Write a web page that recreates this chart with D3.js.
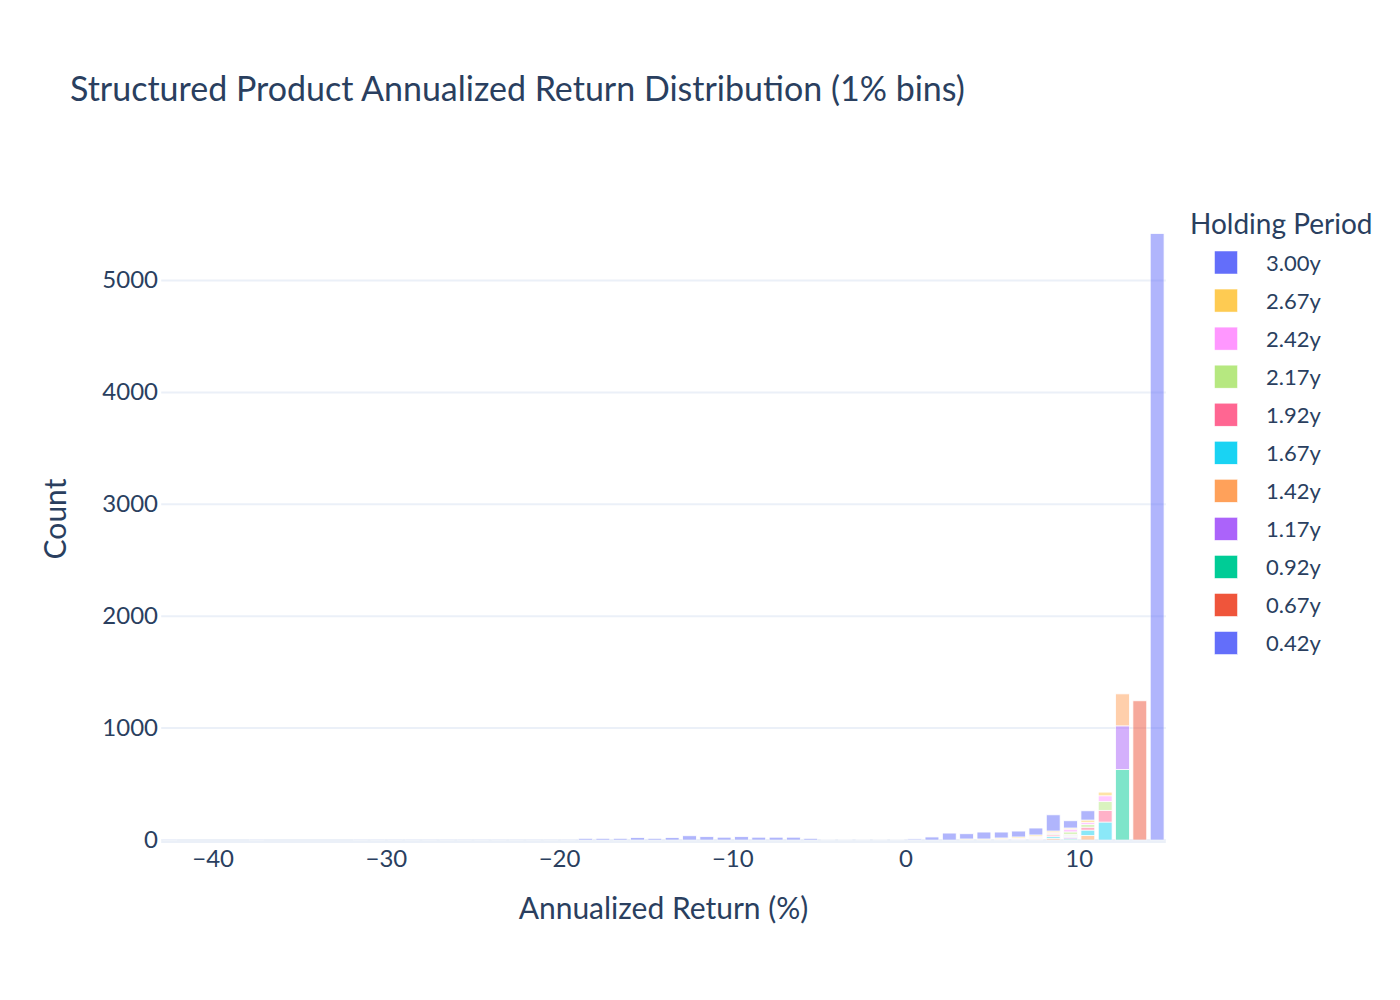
<!DOCTYPE html>
<html>
<head>
<meta charset="utf-8">
<script src="https://cdn.jsdelivr.net/npm/d3@7"></script>
<style>
  body { margin: 0; background: #fff; }
  text { font-family: "Source Sans Pro", Lato, sans-serif; fill: #2a3f5f; }
</style>
</head>
<body>
<svg id="chart" width="1400" height="1000"></svg>
<script>
"use strict";

// holding periods, in stacking order (first one at the bottom)
var periods = ["0.42y", "0.67y", "0.92y", "1.17y", "1.42y", "1.67y", "1.92y", "2.17y", "2.42y", "2.67y", "3.00y"];
var colors = ["#636EFA", "#EF553B", "#00CC96", "#AB63FA", "#FFA15A", "#19D3F3", "#FF6692", "#B6E880", "#FF97FF", "#FECB52", "#636EFA"];

// counts per 1% bin, as [bin lower edge, count]
var bins042 = [[14, 5420]];
var bins067 = [[13, 1244]];
var bins092 = [[12, 630], [9, 10]];
var bins117 = [[12, 390], [9, 14]];
var bins142 = [[12, 286], [10, 40], [9, 8], [8, 15]];
var bins167 = [[11, 160], [10, 48], [9, 8], [8, 15], [7, 6]];
var bins192 = [[11, 105], [10, 26], [9, 10], [8, 15], [7, 8]];
var bins217 = [[11, 78], [10, 24], [9, 22], [8, 10], [7, 8], [6, 7]];
var bins242 = [[11, 52], [10, 20], [9, 25], [8, 10], [7, 8], [6, 8], [5, 8]];
var bins267 = [[11, 33], [10, 20], [9, 10], [8, 15], [7, 15], [6, 12], [5, 10], [4, 9], [3, 9]];
var bins300 = [
    [-43, 3], [-38, 3], [-32, 3], [-31, 3], [-30, 3], [-29, 3], [-28, 3], [-27, 3], [-26, 3],
    [-25, 3], [-24, 3], [-23, 3], [-22, 3], [-21, 3], [-20, 3],
    [-19, 15], [-18, 15], [-17, 15], [-16, 22], [-15, 15], [-14, 22], [-13, 38], [-12, 30],
    [-11, 25], [-10, 30], [-9, 25], [-8, 25], [-7, 25], [-6, 15], [-5, 5], [-4, 4], [-3, 4],
    [-2, 4], [-1, 5], [0, 10], [1, 27], [2, 62], [3, 47], [4, 62], [5, 53], [6, 53], [7, 62],
    [8, 145], [9, 65], [10, 83]
];
var seriesBins = [bins042, bins067, bins092, bins117, bins142, bins167, bins192, bins217, bins242, bins267, bins300];

var xTicks = [-40, -30, -20, -10, 0, 10];
var yTicks = [0, 1000, 2000, 3000, 4000, 5000];

// layout
var iLeft = 161.2, iRight = 1165.8, iBottom = 840, iTop = 201.6;
var fBarWidth = 0.8;
var sGrid = "#EBF0F8";

var svg = d3.select("#chart");

var xScale = d3.scaleLinear().domain([-43, 15]).range([iLeft, iRight]);
var yScale = d3.scaleLinear().domain([0, 5705]).range([iBottom, iTop]);

// title
svg.append("text")
    .attr("x", 70)
    .attr("y", 101)
    .attr("font-size", 34)
    .text("Structured Product Annualized Return Distribution (1% bins)");

// grid
svg.append("g").selectAll("line")
    .data(yTicks.filter(d => d !== 0))
    .join("line")
    .attr("x1", iLeft).attr("x2", iRight)
    .attr("y1", d => yScale(d)).attr("y2", d => yScale(d))
    .attr("stroke", sGrid)
    .attr("stroke-width", 2);

// zero line
svg.append("line")
    .attr("x1", iLeft).attr("x2", iRight)
    .attr("y1", yScale(0) + 1).attr("y2", yScale(0) + 1)
    .attr("stroke", sGrid)
    .attr("stroke-width", 4);

// stacked bars
var aTotals = {};
var aRects = [];
seriesBins.forEach(function(aBins, i) {
    aBins.forEach(function(p) {
        var y0 = aTotals[p[0]] || 0;
        aRects.push({ bin: p[0], y0: y0, y1: y0 + p[1], color: colors[i] });
        aTotals[p[0]] = y0 + p[1];
    });
});

svg.append("g").selectAll("rect")
    .data(aRects)
    .join("rect")
    .attr("x", d => xScale(d.bin + (1 - fBarWidth) / 2))
    .attr("width", d => xScale(d.bin + 1) - xScale(d.bin) - (xScale(1 - fBarWidth) - xScale(0)))
    .attr("y", d => yScale(d.y1))
    .attr("height", d => yScale(d.y0) - yScale(d.y1))
    .attr("fill", d => d.color)
    .attr("stroke", "#fff")
    .attr("stroke-width", 0.8)
    .attr("opacity", 0.5);

// y axis labels
svg.append("g").selectAll("text")
    .data(yTicks)
    .join("text")
    .attr("x", 158)
    .attr("y", d => yScale(d) + 8)
    .attr("text-anchor", "end")
    .attr("font-size", 24)
    .text(d => d);

// x axis labels
svg.append("g").selectAll("text")
    .data(xTicks)
    .join("text")
    .attr("x", d => xScale(d))
    .attr("y", 867)
    .attr("text-anchor", "middle")
    .attr("font-size", 24)
    .text(d => d < 0 ? "\u2212" + Math.abs(d) : d);

// axis titles
svg.append("text")
    .attr("x", (iLeft + iRight) / 2)
    .attr("y", 919)
    .attr("text-anchor", "middle")
    .attr("font-size", 30)
    .text("Annualized Return (%)");

svg.append("text")
    .attr("transform", "translate(66, 519) rotate(-90)")
    .attr("text-anchor", "middle")
    .attr("font-size", 30)
    .text("Count");

// legend, reversed like plotly does for stacked bars
var legend = svg.append("g");
legend.append("text")
    .attr("x", 1190)
    .attr("y", 234)
    .attr("font-size", 28)
    .text("Holding Period");

var aLegend = periods.map((p, i) => ({ label: p, color: colors[i] })).reverse();
var items = legend.selectAll("g.item")
    .data(aLegend)
    .join("g")
    .attr("class", "item")
    .attr("transform", (d, i) => `translate(0, ${262.5 + i * 38.05})`);

items.append("rect")
    .attr("x", 1214.5).attr("y", -11.5)
    .attr("width", 23).attr("height", 23)
    .attr("fill", d => d.color)
    .attr("stroke", "#fff")
    .attr("stroke-width", 0.5);

items.append("text")
    .attr("x", 1266)
    .attr("y", 8)
    .attr("font-size", 22)
    .text(d => d.label);
</script>
</body>
</html>
